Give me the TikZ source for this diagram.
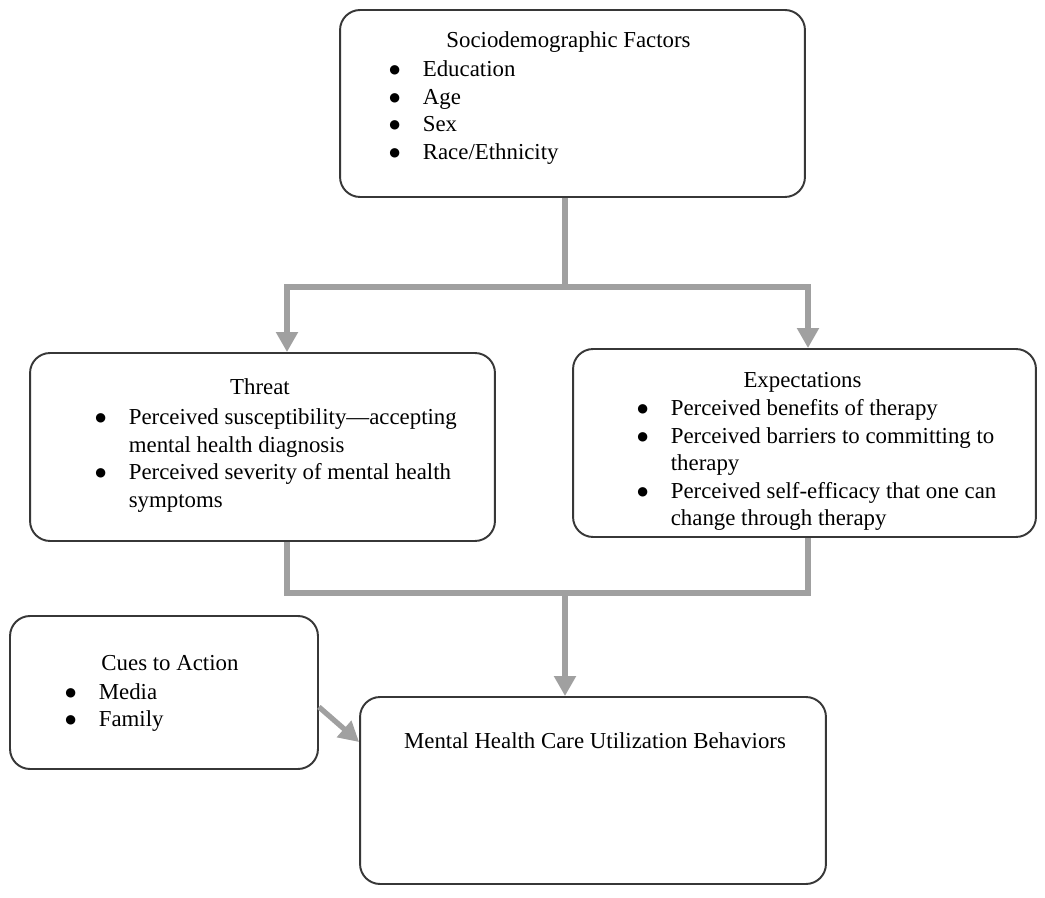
\documentclass[tikz,border=0pt]{standalone}
\usepackage{fontspec}
\setmainfont{Liberation Serif}
\newfontfamily\dotfont{DejaVu Sans}
\usetikzlibrary{arrows.meta}
\definecolor{linkGray}{RGB}{160,160,160}
\definecolor{boxInk}{RGB}{55,55,55}
\newcommand{\bitem}{\raisebox{0.06cm}{\dotfont\fontsize{7}{7}\selectfont ●} &}

\begin{document}
\begin{tikzpicture}[x=0.02cm,y=-0.02cm,font=\fontsize{13}{15.6}\selectfont,
    panel/.style={draw=boxInk,line width=1.1pt,rounded corners=0.4cm,fill=white},
    ttl/.style={anchor=base,inner sep=0pt},
    lst/.style={anchor=base west,inner sep=0pt},
    link/.style={draw=linkGray,line width=3pt},
    arr/.style={link,-{Triangle[width=0.42cm,length=0.4cm]}}]
  \fill[white] (0,0) rectangle (1045,898);
  \useasboundingbox (0,0) rectangle (1045,898);
  % boxes
  \node[panel,minimum width=9.3cm,minimum height=3.74cm]  (soc)  at (572.5,103.5) {};
  \node[panel,minimum width=9.3cm,minimum height=3.76cm]  (thr)  at (262.5,447) {};
  \node[panel,minimum width=9.26cm,minimum height=3.76cm] (exp)  at (804.5,443) {};
  \node[panel,minimum width=6.16cm,minimum height=3.06cm] (cues) at (164,692.5) {};
  \node[panel,minimum width=9.32cm,minimum height=3.74cm] (mhc)  at (593,790.5) {};
  % texts
  \node[ttl] (socT) at (568.5,48) {Sociodemographic Factors};
  \node[lst] (socL) at (389,77) {\begin{tabular}[t]{@{}p{0.67cm}@{}l@{}}
      \bitem Education\\ \bitem Age\\ \bitem Sex\\ \bitem Race/Ethnicity
    \end{tabular}};
  \node[ttl] (thrT) at (260,395) {Threat};
  \node[lst] (thrL) at (95,425) {\begin{tabular}[t]{@{}p{0.67cm}@{}l@{}}
      \bitem Perceived susceptibility---accepting\\
      & mental health diagnosis\\
      \bitem Perceived severity of mental health\\
      & symptoms
    \end{tabular}};
  \node[ttl] (expT) at (802.5,388) {Expectations};
  \node[lst] (expL) at (637,416) {\begin{tabular}[t]{@{}p{0.67cm}@{}l@{}}
      \bitem Perceived benefits of therapy\\
      \bitem Perceived barriers to committing to\\
      & therapy\\
      \bitem Perceived self-efficacy that one can\\
      & change through therapy
    \end{tabular}};
  \node[ttl] (cuesT) at (170,670) {Cues to Action};
  \node[lst] (cuesL) at (65,699) {\begin{tabular}[t]{@{}p{0.67cm}@{}l@{}}
      \bitem Media\\ \bitem Family
    \end{tabular}};
  \node[ttl] (mhcT) at (595,748) {Mental Health Care Utilization Behaviors};
  % connectors
  \coordinate (forkTop) at (565,287);
  \coordinate (forkBot) at (565,593);
  \draw[link] (soc.south -| forkTop) -- (forkTop);
  \draw[arr] (forkTop) -| ([xshift=0.49cm]thr.north);
  \draw[arr] (forkTop) -| ([xshift=0.07cm]exp.north);
  \draw[link] ([xshift=0.49cm]thr.south) |- (forkBot) -| ([xshift=0.07cm]exp.south);
  \draw[arr] (forkBot) -- (mhc.north -| forkBot);
  \draw[arr] ([yshift=-0.29cm]cues.east) -- ([yshift=0.97cm]mhc.west);
\end{tikzpicture}
\end{document}
